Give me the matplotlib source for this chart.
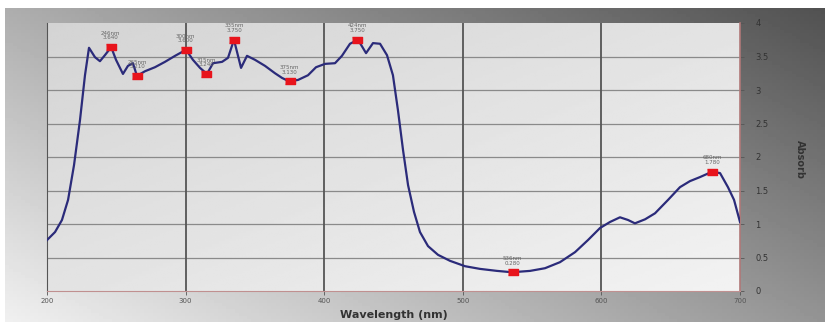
import numpy as np
import matplotlib
matplotlib.use("Agg")
import matplotlib.pyplot as plt

# spectrum
wl = [200, 205.8, 210.8, 215.2, 219.5, 223.8, 227.4, 230.3, 234.6, 238.2, 241.8, 246.3,
      249.8, 254.8, 258.4, 262.0, 264.9, 270.7, 277.9, 285.1, 292.4, 300.3, 305.3, 310.4,
      315.4, 319.8, 326.3, 330.6, 334.9, 340.0, 344.3, 350.1, 357.3, 364.5, 369.6, 374.6,
      381.1, 388.3, 394.1, 400.6, 407.8, 412.8, 418.6, 424.4, 430.2, 435.2, 440.3, 445.3,
      449.6, 453.2, 456.9, 460.5, 464.8, 469.1, 474.9, 482.1, 490.8, 501.6, 512.4, 524.7,
      535.5, 548.5, 559.3, 570.1, 581.0, 590.3, 599.0, 606.2, 613.4, 619.2, 624.2, 631.5,
      638.7, 648.1, 656.7, 663.9, 671.1, 679.8, 685.6, 691.3, 695.7, 700.0]
absorb = [0.76, 0.88, 1.06, 1.36, 1.88, 2.55, 3.22, 3.63, 3.49, 3.43, 3.52, 3.64,
          3.45, 3.24, 3.36, 3.40, 3.21, 3.28, 3.34, 3.42, 3.51, 3.60, 3.45, 3.33,
          3.24, 3.40, 3.42, 3.48, 3.75, 3.33, 3.51, 3.45, 3.36, 3.25, 3.18, 3.13,
          3.15, 3.22, 3.34, 3.39, 3.40, 3.51, 3.69, 3.75, 3.55, 3.70, 3.69, 3.52,
          3.22, 2.70, 2.10, 1.58, 1.18, 0.88, 0.67, 0.54, 0.45, 0.37, 0.33, 0.30,
          0.28, 0.30, 0.34, 0.43, 0.58, 0.76, 0.94, 1.03, 1.10, 1.06, 1.01, 1.07,
          1.16, 1.36, 1.55, 1.64, 1.70, 1.78, 1.76, 1.55, 1.36, 1.03]

# marked peaks / valleys
pk_wl = [246, 265, 300, 315, 335, 375, 424, 536, 680]
pk_abs = [3.64, 3.21, 3.60, 3.24, 3.75, 3.13, 3.75, 0.28, 1.78]

xticks = [200, 300, 400, 500, 600, 700]
yticks = [0, 0.5, 1, 1.5, 2, 2.5, 3, 3.5, 4]

fig = plt.figure(figsize=(8.25, 3.27), dpi=100)

# grey gradient background
bg = fig.add_axes([5/825, 5/327, 820/825, 314/327])
bg.axis("off")
gx, gy = np.meshgrid(np.linspace(0, 1, 200), np.linspace(0, 1, 100))
v = 0.68 - 0.36*gx + 0.26*gy
bg.imshow(v, cmap="gray", vmin=0, vmax=1, aspect="auto", extent=[0, 1, 1, 0])

ax = fig.add_axes([47/825, 36/327, 693/825, 268/327])
px, py = np.meshgrid(np.linspace(0, 1, 200), np.linspace(0, 1, 100))
pv = 0.83 + 0.06*px + 0.06*py
ax.imshow(pv, cmap="gray", vmin=0, vmax=1, aspect="auto",
          extent=[200, 700, 0, 4], origin="upper", zorder=0)

ax.set_xlim(200, 700)
ax.set_ylim(0, 4)
ax.set_xticks(xticks)
ax.set_yticks(yticks)
ax.set_xticklabels([str(t) for t in xticks], fontsize=5, color="#555555")
ax.set_yticklabels(["0", "0.5", "1", "1.5", "2", "2.5", "3", "3.5", "4"], fontsize=6, color="#333333")
ax.yaxis.tick_right()
ax.tick_params(axis="both", length=3, width=0.6, colors="#555555", pad=2)
ax.tick_params(axis="y", labelcolor="#333333", pad=8)

for t in yticks[1:-1]:
    ax.axhline(t, color="#8a8a8a", lw=0.9, zorder=1)
for t in xticks[1:-1]:
    ax.axvline(t, color="#555555", lw=1.3, zorder=1)

ax.spines["top"].set_visible(False)
ax.spines["left"].set_color("#555555")
ax.spines["right"].set_color("#b07878")
ax.spines["bottom"].set_color("#c09090")
ax.spines["right"].set_linewidth(1.2)

ax.plot(wl, absorb, color="#2b2b7a", lw=1.6, zorder=3)

rect = [(-1.7, -1), (1.7, -1), (1.7, 1), (-1.7, 1)]
ax.scatter(pk_wl, pk_abs, marker=rect, s=60, color="#e8141c", zorder=4)
for w, a in zip(pk_wl, pk_abs):
    ax.text(w, a + 0.1, "%dnm\n%.3f" % (w, a), fontsize=4, color="#666666",
            ha="center", va="bottom", linespacing=0.9, zorder=5)

ax.set_xlabel("Wavelength (nm)", fontsize=8, fontweight="bold", color="#333333", labelpad=4)
fig.text(800/825, 1 - 160/327, "Absorb", rotation=270, fontsize=7, fontweight="bold",
         color="#333333", ha="center", va="center")

fig.savefig("out.png", dpi=100)
